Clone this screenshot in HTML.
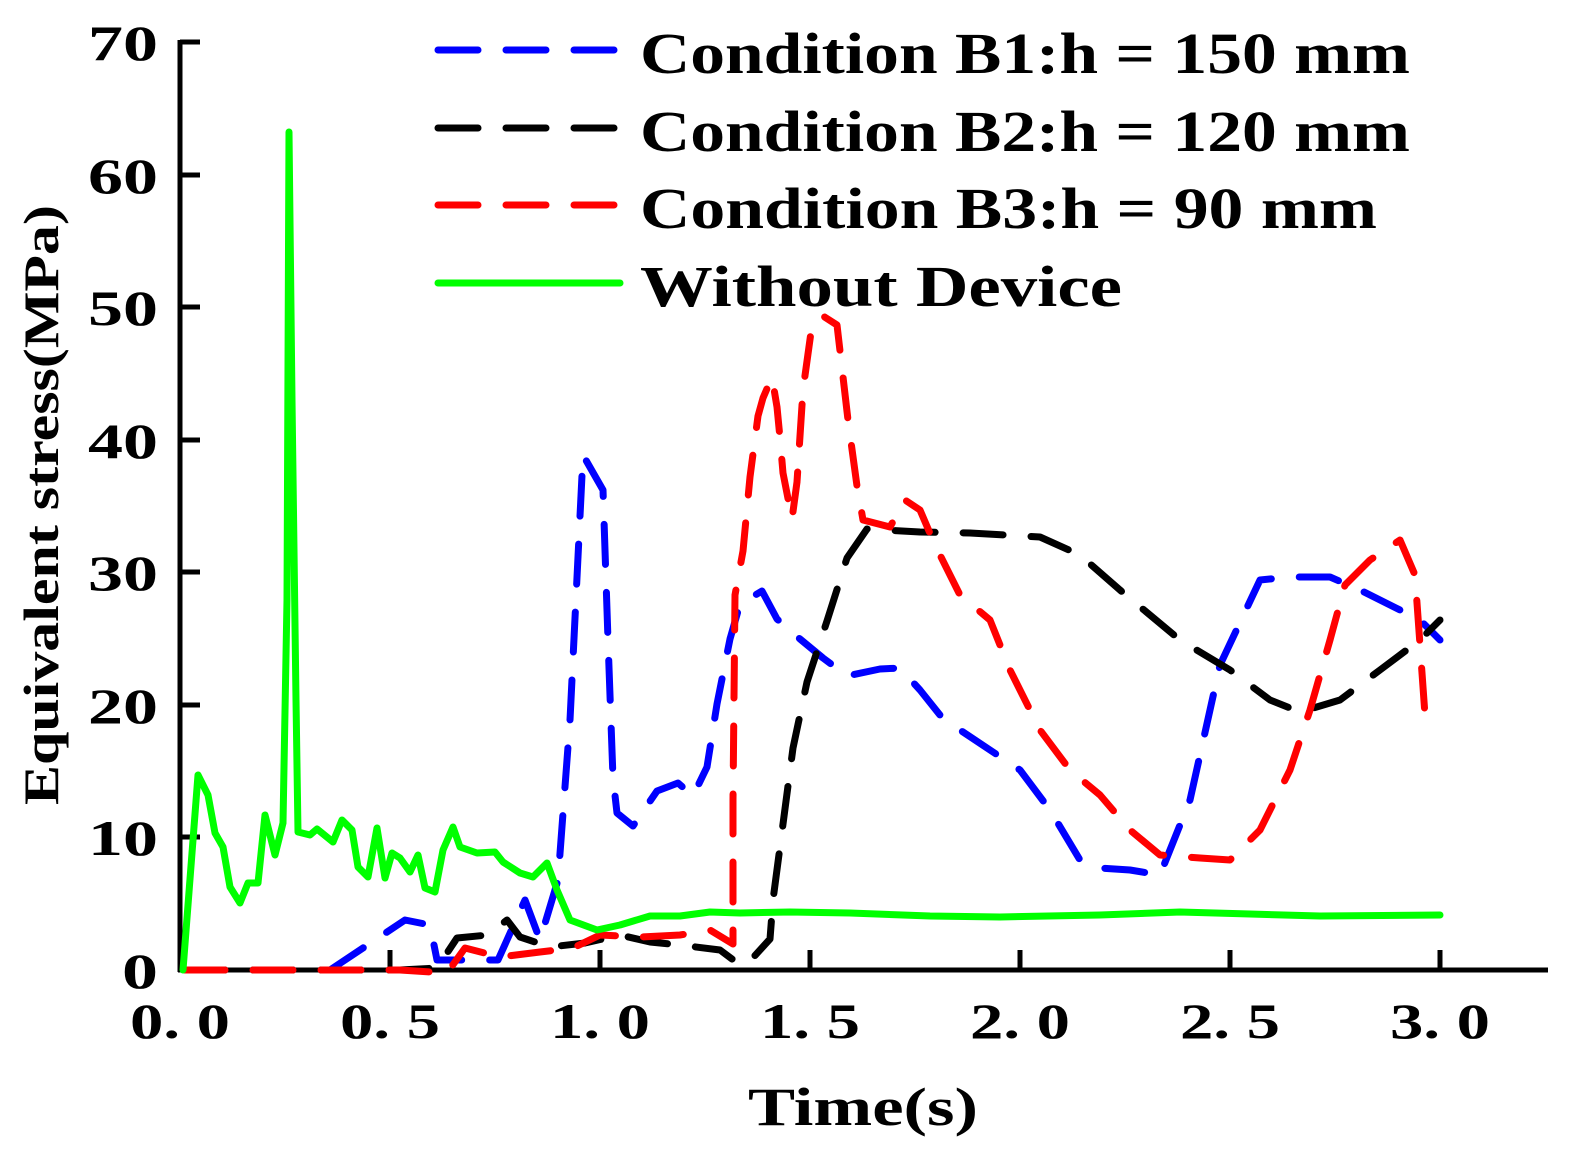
<!DOCTYPE html>
<html><head><meta charset="utf-8"><style>
html,body{margin:0;padding:0;background:#fff;}
svg{display:block;}
text{font-family:"Liberation Serif",serif;font-weight:bold;fill:#000;}
</style></head><body>
<svg width="1581" height="1164" viewBox="0 0 1581 1164" xmlns="http://www.w3.org/2000/svg">
<g stroke="#000" stroke-width="5" fill="none">
<line x1="180" y1="40" x2="180" y2="972"/>
<line x1="178" y1="970" x2="1548" y2="970"/>
<line x1="180" y1="42" x2="200" y2="42"/>
<line x1="180" y1="175" x2="200" y2="175"/>
<line x1="180" y1="307" x2="200" y2="307"/>
<line x1="180" y1="440" x2="200" y2="440"/>
<line x1="180" y1="572" x2="200" y2="572"/>
<line x1="180" y1="705" x2="200" y2="705"/>
<line x1="180" y1="837" x2="200" y2="837"/>
<line x1="390" y1="950" x2="390" y2="970"/>
<line x1="600" y1="950" x2="600" y2="970"/>
<line x1="810" y1="950" x2="810" y2="970"/>
<line x1="1020" y1="950" x2="1020" y2="970"/>
<line x1="1230" y1="950" x2="1230" y2="970"/>
<line x1="1440" y1="950" x2="1440" y2="970"/>
</g>
<g font-size="50">
<text x="88" y="60" textLength="70" lengthAdjust="spacingAndGlyphs">70</text>
<text x="88" y="193" textLength="70" lengthAdjust="spacingAndGlyphs">60</text>
<text x="88" y="325" textLength="70" lengthAdjust="spacingAndGlyphs">50</text>
<text x="88" y="458" textLength="70" lengthAdjust="spacingAndGlyphs">40</text>
<text x="88" y="590" textLength="70" lengthAdjust="spacingAndGlyphs">30</text>
<text x="88" y="723" textLength="70" lengthAdjust="spacingAndGlyphs">20</text>
<text x="88" y="855" textLength="70" lengthAdjust="spacingAndGlyphs">10</text>
<text x="122" y="988" textLength="36" lengthAdjust="spacingAndGlyphs">0</text>
</g>
<g font-size="50">
<text x="130" y="1038" textLength="100" lengthAdjust="spacingAndGlyphs">0. 0</text>
<text x="340" y="1038" textLength="100" lengthAdjust="spacingAndGlyphs">0. 5</text>
<text x="550" y="1038" textLength="100" lengthAdjust="spacingAndGlyphs">1. 0</text>
<text x="760" y="1038" textLength="100" lengthAdjust="spacingAndGlyphs">1. 5</text>
<text x="970" y="1038" textLength="100" lengthAdjust="spacingAndGlyphs">2. 0</text>
<text x="1180" y="1038" textLength="100" lengthAdjust="spacingAndGlyphs">2. 5</text>
<text x="1390" y="1038" textLength="100" lengthAdjust="spacingAndGlyphs">3. 0</text>
</g>
<text x="748" y="1125" font-size="54" textLength="230" lengthAdjust="spacingAndGlyphs">Time(s)</text>
<text transform="translate(58,805) rotate(-90)" font-size="50" textLength="600" lengthAdjust="spacingAndGlyphs">Equivalent stress(MPa)</text>
<g fill="none" stroke-width="7" stroke-linecap="round" stroke-linejoin="round">
<polyline stroke="#0000ff" stroke-dasharray="40,28" points="330,970 405,920 430,925 437,960 498,960 525,900 540,940 558,880 570,720 583,455 603,490 608,640 613,778 617,813 633,826 657,791 678,783 693,796 707,767 717,704 730,639 740,604 762,591 777,619 800,639 823,658 847,676 880,669 900,668 920,690 940,715 960,730 990,750 1020,770 1050,810 1080,860 1100,868 1130,870 1160,875 1190,800 1220,665 1260,580 1290,577 1330,577 1360,590 1400,610 1420,620 1440,640"/>
<polyline stroke="#000" stroke-dasharray="40,28" points="185,970 400,970 437,968 457,938 488,935 507,920 520,937 550,947 585,943 620,935 650,942 680,945 720,950 740,965 750,961 770,939 773,900 793,748 807,682 827,621 847,558 867,529 920,532 970,533 1040,537 1080,555 1120,590 1180,640 1230,670 1270,700 1300,712 1340,700 1380,670 1420,640 1440,620"/>
<polyline stroke="#ff0000" stroke-dasharray="40,28" points="185,970 400,970 447,973 465,948 500,957 540,952 573,948 600,935 640,937 680,935 710,930 733,944 733,800 735,595 743,551 750,477 758,416 763,398 772,377 777,407 780,438 783,473 792,519 797,482 803,390 812,325 823,316 837,325 848,420 857,486 863,520 890,527 905,500 920,510 935,545 960,595 990,620 1010,670 1040,730 1070,770 1100,795 1130,830 1160,855 1200,858 1230,860 1260,830 1290,770 1310,710 1330,640 1345,585 1370,560 1400,540 1415,575 1425,715"/>
<polyline stroke="#00ff00" points="183,970 198,775 208,795 215,833 223,847 230,887 240,903 248,883 258,883 265,815 275,855 283,823 287,600 289,132 292,400 296,700 298,832 310,835 317,829 333,842 342,820 352,830 358,867 368,877 377,828 385,878 392,853 400,858 410,872 418,855 425,888 435,892 443,850 453,827 460,847 477,853 495,852 503,862 520,873 533,877 547,863 557,890 570,920 597,930 620,925 650,916 680,916 710,912 740,913 790,912 850,913 930,916 1000,917 1100,915 1180,912 1250,914 1320,916 1440,915"/>
</g>
<g fill="none" stroke-width="7" stroke-linecap="round">
<line x1="438" y1="50" x2="620" y2="50" stroke="#0000ff" stroke-dasharray="40,28"/>
<line x1="438" y1="128" x2="620" y2="128" stroke="#000" stroke-dasharray="40,28"/>
<line x1="438" y1="205" x2="620" y2="205" stroke="#ff0000" stroke-dasharray="40,28"/>
<line x1="438" y1="283" x2="620" y2="283" stroke="#00ff00"/>
</g>
<g font-size="58">
<text x="640" y="73" textLength="770" lengthAdjust="spacingAndGlyphs">Condition B1:h = 150 mm</text>
<text x="640" y="151" textLength="770" lengthAdjust="spacingAndGlyphs">Condition B2:h = 120 mm</text>
<text x="640" y="228" textLength="737" lengthAdjust="spacingAndGlyphs">Condition B3:h = 90 mm</text>
<text x="640" y="306" textLength="482" lengthAdjust="spacingAndGlyphs">Without Device</text>
</g>
</svg>
</body></html>
